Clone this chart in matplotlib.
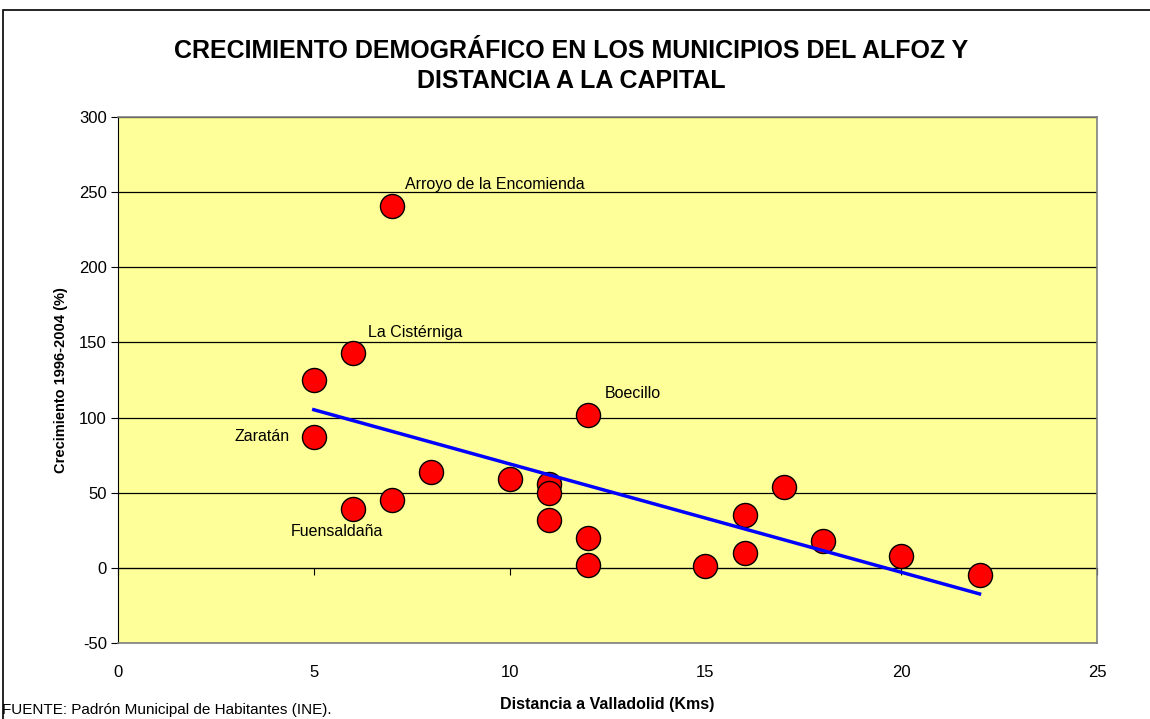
import matplotlib.pyplot as plt
import numpy as np
from matplotlib.patches import Rectangle

plt.rcParams["font.family"] = ["Liberation Sans", "DejaVu Sans"]
plt.rcParams["axes.unicode_minus"] = False

# distance to Valladolid (km) and growth 1996-2004 (%)
distancia = [5, 5, 6, 6, 7, 7, 8, 10, 11, 11, 11, 12, 12, 12, 15, 16, 16, 17, 18, 20, 22]
crecimiento = [125, 87, 143, 39, 241, 45, 64, 59, 56, 50, 32, 102, 20, 2, 1, 35, 10, 54, 18, 8, -5]

# labelled municipalities: (name, x, y, offset px, ha, va)
etiquetas = [
    ("Arroyo de la Encomienda", 7, 241, (13, 14), "left", "bottom"),
    ("La Cistérniga", 6, 143, (15, 13), "left", "bottom"),
    ("Boecillo", 12, 102, (17, 14), "left", "bottom"),
    ("Zaratán", 5, 87, (-24, 1), "right", "center"),
    ("Fuensaldaña", 6, 39, (-16, -22), "center", "center"),
]

x_ticks = [0, 5, 10, 15, 20, 25]
y_ticks = [-50, 0, 50, 100, 150, 200, 250, 300]

fig = plt.figure(figsize=(11.5, 7.19), dpi=100)
fig.patches.append(Rectangle((3 / 1150, -0.01), 1.02, 1 - 10 / 719 + 0.01,
                             transform=fig.transFigure, fill=False,
                             edgecolor="black", linewidth=1.2))

ax = fig.add_axes([0.1026, 0.1057, 0.9539 - 0.1026, 0.8373 - 0.1057])
ax.set_facecolor("#FFFF99")
ax.set_xlim(0, 25)
ax.set_ylim(-50, 300)
ax.set_xticks(x_ticks)
ax.set_yticks(y_ticks)
ax.grid(axis="y", color="black", linewidth=0.9)
ax.set_axisbelow(True)

for side in ["top", "right", "bottom"]:
    ax.spines[side].set_color("#808080")
    ax.spines[side].set_linewidth(1.2)
ax.spines["left"].set_color("black")

ax.tick_params(axis="x", length=0, pad=16, labelsize=12)
ax.tick_params(axis="y", length=5, direction="out", labelsize=12, pad=3)

# x axis line crosses at y = 0 with its tick marks
cruce = (0 - (-50)) / 350
sec = ax.secondary_xaxis(cruce)
sec.set_xticks(x_ticks)
sec.tick_params(axis="x", length=5, direction="out", labelbottom=False, labeltop=False)
sec.spines["bottom"].set_color("black")

ax.scatter(distancia, crecimiento, s=300, color="#FF0000", edgecolor="black",
           linewidth=1.0, zorder=3)

# linear trend line
coef = np.polyfit(distancia, crecimiento, 1)
xs = np.array([min(distancia), max(distancia)])
ax.plot(xs, np.polyval(coef, xs), color="#0000FF", linewidth=2.5, zorder=4)

for nombre, x, y, off, ha, va in etiquetas:
    ax.annotate(nombre, (x, y), xytext=off, textcoords="offset pixels",
                ha=ha, va=va, fontsize=11.5)

ax.set_xlabel("Distancia a Valladolid (Kms)", fontsize=11.5, fontweight="bold", labelpad=12)
ax.set_ylabel("Crecimiento 1996-2004 (%)", fontsize=10.5, fontweight="bold", labelpad=8)

fig.text(0.497, 1 - 66 / 719, "CRECIMIENTO DEMOGRÁFICO EN LOS MUNICIPIOS DEL ALFOZ Y\nDISTANCIA A LA CAPITAL",
         ha="center", va="center", fontsize=18, fontweight="bold", linespacing=1.3)
fig.text(2 / 1150, 0.003, "FUENTE: Padrón Municipal de Habitantes (INE).",
         ha="left", va="bottom", fontsize=11)

fig.savefig("out.png", dpi=100)
